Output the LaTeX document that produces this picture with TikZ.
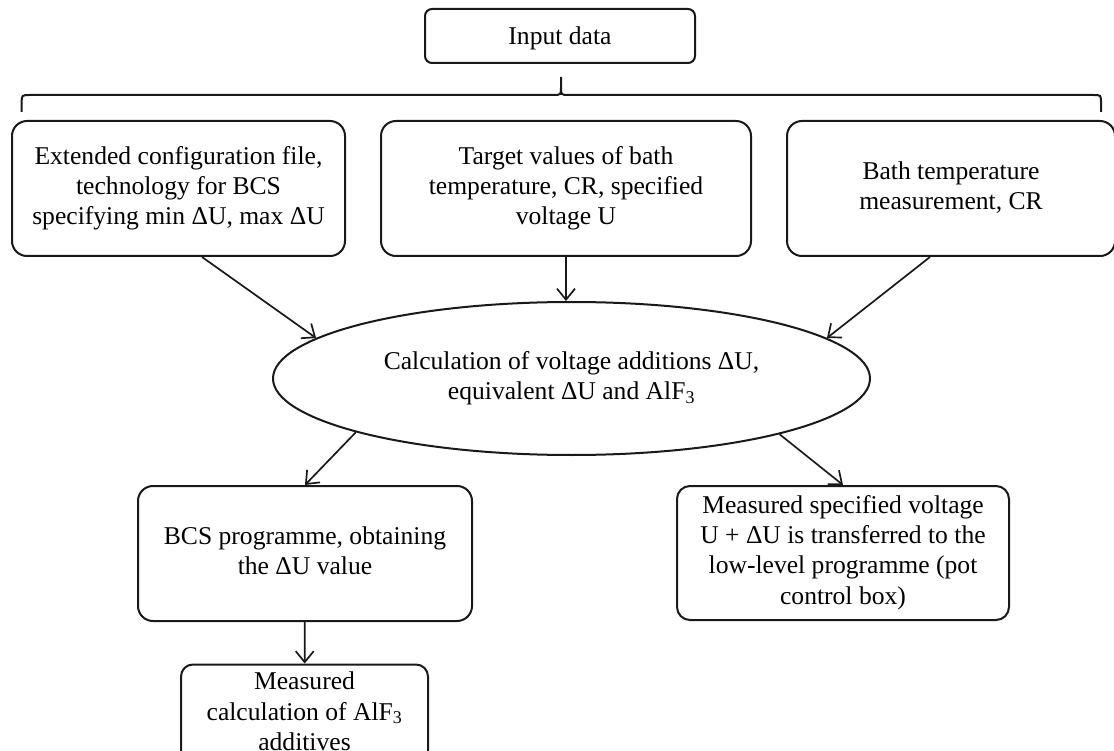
\documentclass[tikz,border=0pt]{standalone}
\usepackage{fontspec}
\setmainfont{Liberation Serif}
\usetikzlibrary{shapes.geometric, arrows.meta, calc}
\newcommand{\topstrut}{\rule{0pt}{23pt}}
\newcommand{\botstrut}{\rule[-6.5pt]{0pt}{6.5pt}}
\tikzset{
  blk/.style ={rectangle, rounded corners=15pt, draw=black!90, line width=2pt, fill=white,
               align=center, font=\fontsize{25.6}{30.2}\selectfont, text=black, inner sep=0pt,
               execute at begin node=\topstrut, execute at end node=\botstrut},
  blki/.style={blk, rounded corners=7pt},
  hub/.style ={ellipse, draw=black!90, line width=2pt, align=center, inner sep=0pt,
               font=\fontsize{25.6}{30.5}\selectfont, text=black,
               execute at begin node=\topstrut, execute at end node=\botstrut,
               minimum width=597pt, minimum height=153pt},
  brc/.style ={draw=black!90, line width=2pt},
  ar/.style  ={-{Straight Barb[length=11pt, width=18pt]}, draw=black!90, line width=1.7pt},
}
\begin{document}
\begin{tikzpicture}[x=1pt, y=-1pt]
\useasboundingbox (0,0) rectangle (1114,751);
\clip (0,0) rectangle (1114,751);
% top box and brace
\node[blki, minimum width=270pt, minimum height=54pt] (inp) at (560,36) {Input data};
\draw[brc] (21.7,112) -- (21.7,103) .. controls (21.7,95) .. (30,95) -- (553,95)
  .. controls (561,95) .. (561,87) -- (561,77) -- (561,87)
  .. controls (561,95) .. (569,95) -- (1093,95) .. controls (1101,95) .. (1101,103) -- (1101,112);
% input boxes
\node[blk, minimum width=333pt, minimum height=135pt] (cfg) at (178.5,188.5)
  {Extended configuration file,\\technology for BCS\\specifying min ΔU, max ΔU};
\node[blk, minimum width=370pt, minimum height=135pt] (tgt) at (566,188.5)
  {Target values of bath\\temperature, CR, specified\\voltage U};
\node[blk, minimum width=328pt, minimum height=135pt] (meas) at (951,188.5)
  {Bath temperature\\measurement, CR};
% calculation
\node[hub] (volt) at (571.5,378.5)
  {Calculation of voltage additions ΔU,\\equivalent ΔU and AlF\textsubscript{3}};
% outputs
\node[blk, minimum width=334pt, minimum height=135pt] (bcs) at (305,553.5)
  {BCS programme, obtaining\\the ΔU value};
\node[blk, rounded corners=13pt, minimum width=332pt, minimum height=134pt] (low) at (843,553)
  {Measured specified voltage\\U + ΔU is transferred to the\\low-level programme (pot\\control box)};
\node[blk, rounded corners=12pt, minimum width=247pt, minimum height=100pt] (alf) at (304.5,714.5)
  {Measured\\calculation of AlF\textsubscript{3}\\additives};
% arrows
\draw[ar] ($(cfg.south)+(23.5,0)$) -- (volt.171);
\draw[ar] (tgt.south) -- (tgt.south |- volt.north);
\draw[ar] ($(meas.south)+(-21,0)$) -- (volt.9);
\draw[ar] (volt.194.6) -- (bcs.north);
\draw[ar] (volt.345.5) -- (low.north);
\draw[ar] (bcs) -- (alf);
\end{tikzpicture}
\end{document}
